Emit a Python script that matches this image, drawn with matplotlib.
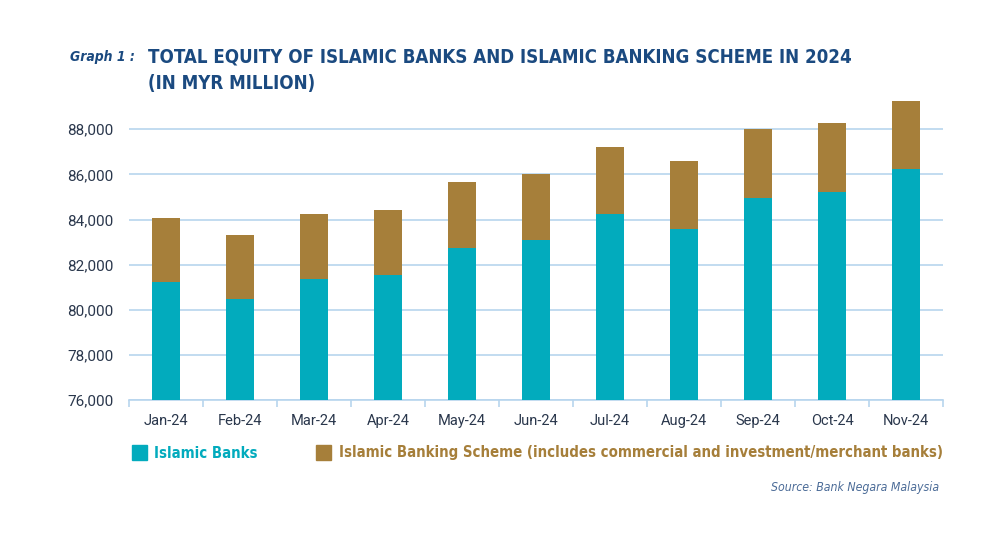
import matplotlib
matplotlib.use('Agg')
import matplotlib.pyplot as plt
from matplotlib.patches import Rectangle
import numpy as np

months = ['Jan-24', 'Feb-24', 'Mar-24', 'Apr-24', 'May-24', 'Jun-24',
          'Jul-24', 'Aug-24', 'Sep-24', 'Oct-24', 'Nov-24']
# MYR million
islamic_banks = [81230, 80500, 81390, 81560, 82760, 83080,
                 84230, 83590, 84950, 85240, 86220]
banking_scheme = [2830, 2830, 2860, 2870, 2920, 2920,
                  2990, 2980, 3040, 3040, 3040]
y_ticks = [76000, 78000, 80000, 82000, 84000, 86000, 88000]
legend_labels = ['Islamic Banks',
                 'Islamic Banking Scheme (includes commercial and investment/merchant banks)']

TEAL = '#02abbd'
BROWN = '#a67f3a'
NAVY = '#1b4a80'
GRID = '#b8d5ee'
TICK_TXT = '#2a374c'
FONT = ['DejaVu Sans']

W, H = 1000, 533
fig = plt.figure(figsize=(W / 100, H / 100), dpi=100)
ax = fig.add_axes([0.129, 0.249, 0.814, 0.568])

x = np.arange(len(months))
ax.bar(x, islamic_banks, width=0.39, color=TEAL, zorder=3)
ax.bar(x, banking_scheme, width=0.39, bottom=islamic_banks, color=BROWN, zorder=3)

ax.set_xlim(-0.5, len(months) - 0.5)
ax.set_ylim(76000, 89400)
ax.set_yticks(y_ticks)
ax.set_yticklabels([f'{v:,}' for v in y_ticks], fontsize=11, color=TICK_TXT,
                   family='Roboto')
ax.set_xticks(x)
ax.set_xticklabels(months, fontsize=10.5, color=TICK_TXT, family='Roboto')
ax.set_xticks(np.arange(-0.5, len(months)), minor=True)
ax.tick_params(axis='x', which='major', length=0, pad=10)
ax.tick_params(axis='x', which='minor', length=5, color=GRID, width=1.2)
ax.tick_params(axis='y', length=0, pad=11)
ax.yaxis.grid(True, color=GRID, linewidth=1.2, zorder=0)
for s in ['top', 'right', 'left']:
    ax.spines[s].set_visible(False)
ax.spines['bottom'].set_color(GRID)
ax.spines['bottom'].set_linewidth(1.2)


def px(xp, yp):
    return xp / W, 1 - yp / H


def fit(t, width_px):
    # shrink the font so the text spans the same width as in the reference
    fig.canvas.draw()
    r = fig.canvas.get_renderer()
    w = t.get_window_extent(r).width
    t.set_fontsize(t.get_fontsize() * width_px / w)


# title
g = fig.text(*px(70, 57), 'Graph 1 :', fontsize=12, fontweight='bold', style='italic',
             color=NAVY, family=FONT, va='center', fontstretch='condensed')
t1 = fig.text(*px(148, 57), 'TOTAL EQUITY OF ISLAMIC BANKS AND ISLAMIC BANKING SCHEME IN 2024',
              fontsize=14, fontweight='bold', color=NAVY, family=FONT, va='center',
              fontstretch='condensed')
t2 = fig.text(*px(148, 83), '(IN MYR MILLION)', fontsize=14, fontweight='bold',
              color=NAVY, family=FONT, va='center', fontstretch='condensed')
fit(g, 65)
fit(t1, 705)
t2.set_fontsize(t1.get_fontsize())

# legend
for (x0, col) in [(132, TEAL), (316, BROWN)]:
    fig.patches.append(Rectangle(px(x0, 459.5), 14.5 / W, 14.5 / H, color=col,
                                 transform=fig.transFigure, figure=fig))
l1 = fig.text(*px(154, 453), legend_labels[0], fontsize=12, color=TEAL, family=FONT,
              va='center', fontweight='semibold', fontstretch='condensed')
l2 = fig.text(*px(339, 453), legend_labels[1], fontsize=12, color=BROWN, family=FONT,
              va='center', fontweight='semibold', fontstretch='condensed')
fit(l2, 602)
l1.set_fontsize(l2.get_fontsize())

src = fig.text(*px(939, 487), 'Source: Bank Negara Malaysia', fontsize=9.5, style='italic',
               color='#4c6c98', family=FONT, ha='right', va='center',
               fontstretch='condensed')
fit(src, 168)

fig.savefig('out.png', dpi=100)
